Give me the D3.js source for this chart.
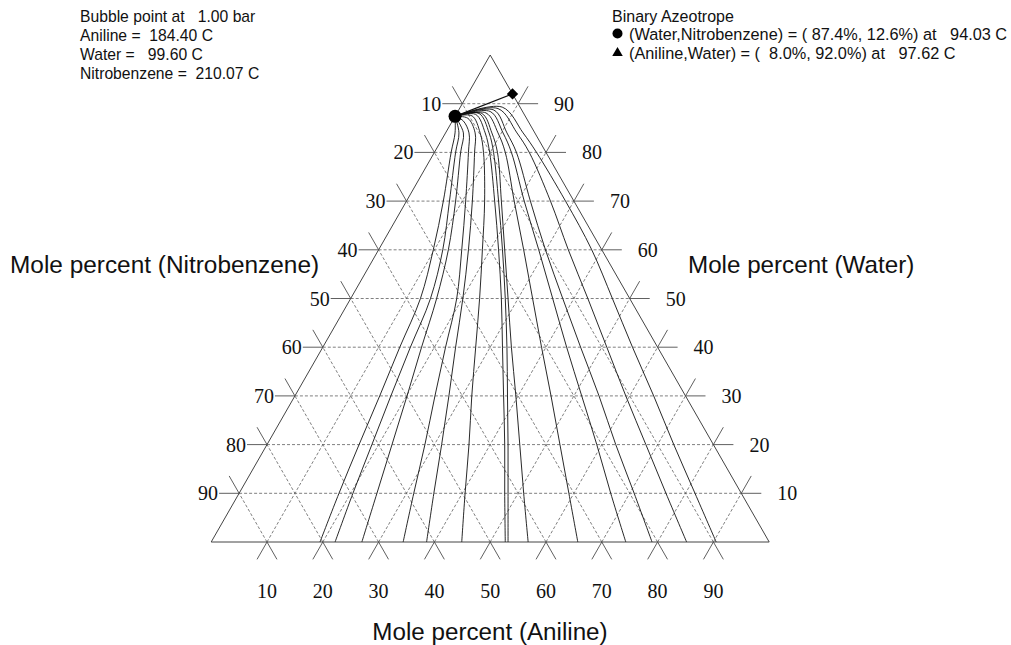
<!DOCTYPE html>
<html>
<head>
<meta charset="utf-8">
<script src="https://cdn.jsdelivr.net/npm/d3@7"></script>
<style>
  body { margin: 0; background: #fff; }
  svg { display: block; }
  .sans { font-family: "Liberation Sans", Arial, sans-serif; }
  .serif { font-family: "Liberation Serif", "Times New Roman", serif; }
</style>
</head>
<body>
<svg id="chart" width="1011" height="645"></svg>
<script>
// Ternary system: apex = Water, bottom-right = Aniline, bottom-left = Nitrobenzene
const gridTicks = [10, 20, 30, 40, 50, 60, 70, 80, 90];
const axisTitles = {
  left: "Mole percent (Nitrobenzene)",
  right: "Mole percent (Water)",
  bottom: "Mole percent (Aniline)"
};
const headerLines = [
  "Bubble point at   1.00 bar",
  "Aniline =  184.40 C",
  "Water =   99.60 C",
  "Nitrobenzene =  210.07 C"
];
const legendTitle = "Binary Azeotrope";
const legendLines = [
  "(Water,Nitrobenzene) = ( 87.4%, 12.6%) at   94.03 C",
  "(Aniline,Water) = (  8.0%, 92.0%) at   97.62 C"
];
// azeotropes as [water %, aniline %]
const azeoWaterNitro = [87.4, 0.0];
const azeoAnilineWater = [92.0, 8.0];

// bubble-point isotherms, lower part: aniline % at each water % level
const isothermWater = [0, 10, 20, 30, 40, 50, 60, 70, 80];
const isothermAniline = [
  [19.5, 17.9, 16.5, 15.2, 13.8, 12.5,  9.8,  6.6,  3.0],
  [22.2, 20.4, 18.8, 17.2, 15.7, 14.3, 11.5,  7.7,  3.8],
  [27.0, 24.7, 22.4, 20.1, 17.7, 15.4, 12.5,  8.8,  4.7],
  [34.4, 31.3, 28.3, 25.1, 22.0, 19.0, 14.9, 10.6,  6.1],
  [38.6, 34.9, 31.3, 27.6, 23.8, 20.1, 16.1, 11.8,  7.2],
  [44.9, 40.5, 36.2, 31.7, 27.4, 23.1, 18.6, 14.0,  8.8],
  [52.7, 47.6, 42.6, 37.4, 32.2, 27.0, 21.5, 15.8,  9.9],
  [53.2, 48.2, 43.2, 38.1, 33.0, 27.7, 22.2, 16.5, 10.6],
  [56.8, 51.0, 45.3, 39.6, 33.8, 28.2, 22.6, 17.0, 11.3],
  [65.7, 59.1, 52.5, 45.9, 39.2, 32.6, 26.0, 19.3, 12.7],
  [74.3, 66.6, 59.1, 51.4, 43.7, 36.2, 28.7, 21.1, 13.8],
  [79.0, 70.8, 62.5, 54.5, 46.2, 38.0, 29.9, 22.2, 14.7],
  [85.2, 76.5, 67.9, 59.3, 50.9, 42.5, 34.0, 25.8, 17.0],
  [90.5, 81.7, 72.9, 64.3, 55.5, 46.9, 38.2, 28.5, 18.3]
];
// upper part of each isotherm as [water %, aniline %], arching into the W/N azeotrope
const isothermTop = [
  [[84, 1.7]],
  [[84, 2.4]],
  [[84, 3.2]],
  [[84, 4.2], [86.5, 1.9]],
  [[84, 5.3], [87.0, 2.5]],
  [[84, 6.2], [87.5, 3.0]],
  [[84, 7.1], [87.8, 3.5]],
  [[84, 7.8], [88.0, 4.0]],
  [[84, 8.3], [88.0, 4.5]],
  [[84, 9.4], [88.1, 5.2]],
  [[84, 10.3], [88.4, 5.8]],
  [[84, 11.0], [88.7, 6.3]],
  [[84, 12.8], [89.0, 6.9]],
  [[84, 13.9], [89.3, 7.5]]
];

const svg = d3.select("#chart");

// ternary -> pixel: water sets height, aniline runs along the base
const yW = d3.scaleLinear().domain([0, 100]).range([542, 55]);
const xA = d3.scaleLinear().domain([0, 100]).range([211.2, 769.2]);
const shiftW = d3.scaleLinear().domain([0, 100]).range([0, 279]);
const pt = (w, a) => [xA(a) + shiftW(w), yW(w)];

const gridColor = "#606060";
const tickLen = 20;

function extend(from, to, len) {
  const dx = to[0] - from[0], dy = to[1] - from[1];
  const d = Math.hypot(dx, dy);
  return [to, [to[0] + dx / d * len, to[1] + dy / d * len]];
}
const seg = (g, p, q) => g.append("line")
  .attr("x1", p[0]).attr("y1", p[1]).attr("x2", q[0]).attr("y2", q[1]);

// dashed grid
const grid = svg.append("g")
  .attr("stroke", gridColor).attr("stroke-width", 0.8)
  .attr("stroke-dasharray", "3,2").attr("fill", "none");
gridTicks.forEach(v => {
  seg(grid, pt(v, 0), pt(v, 100 - v));           // constant water
  seg(grid, pt(0, v), pt(100 - v, v));           // constant aniline
  seg(grid, pt(0, v), pt(v, 0));                 // constant nitrobenzene
});

// tick marks (solid extensions of the grid lines)
const ticks = svg.append("g").attr("stroke", gridColor).attr("stroke-width", 1);
gridTicks.forEach(v => {
  // left edge: nitrobenzene = v
  const L = pt(100 - v, 0);
  seg(ticks, L, [L[0] - tickLen, L[1]]);
  const l2 = extend(pt(0, 100 - v), L, tickLen); seg(ticks, l2[0], l2[1]);
  // right edge: water = v
  const R = pt(v, 100 - v);
  seg(ticks, R, [R[0] + tickLen, R[1]]);
  const r2 = extend(pt(0, 100 - v), R, tickLen); seg(ticks, r2[0], r2[1]);
  // bottom edge: aniline = v
  const B = pt(0, v);
  const b1 = extend(pt(100 - v, v), B, tickLen); seg(ticks, b1[0], b1[1]);
  const b2 = extend(pt(v, 0), B, tickLen); seg(ticks, b2[0], b2[1]);
});

// triangle outline
svg.append("path")
  .attr("d", d3.line()([pt(100, 0), pt(0, 100), pt(0, 0)]) + "Z")
  .attr("fill", "none").attr("stroke", "#444").attr("stroke-width", 1);

// tick labels
const serifG = svg.append("g").attr("class", "serif").attr("font-size", 20).attr("fill", "#111");
gridTicks.forEach(v => {
  const L = pt(100 - v, 0);
  serifG.append("text").attr("x", L[0] - tickLen - 1).attr("y", L[1] + 7)
    .attr("text-anchor", "end").text(v);
  const R = pt(v, 100 - v);
  serifG.append("text").attr("x", R[0] + 36).attr("y", R[1] + 7)
    .attr("text-anchor", "start").text(v);
  const B = pt(0, v);
  serifG.append("text").attr("x", B[0]).attr("y", 598)
    .attr("text-anchor", "middle").text(v);
});

// isotherm curves
const line = d3.line().curve(d3.curveCatmullRom.alpha(0.5));
const curveG = svg.append("g").attr("fill", "none").attr("stroke", "#111").attr("stroke-width", 0.9);
isothermAniline.forEach((arr, k) => {
  const pts = isothermWater.map((w, i) => pt(w, arr[i]));
  isothermTop[k].forEach(([w, a]) => pts.push(pt(w, a)));
  pts.push(pt(azeoWaterNitro[0], azeoWaterNitro[1]));
  curveG.append("path").attr("d", line(pts));
});

// line joining the two binary azeotropes
svg.append("path")
  .attr("d", d3.line()([pt(...azeoWaterNitro), pt(...azeoAnilineWater)]))
  .attr("stroke", "#111").attr("stroke-width", 1.2).attr("fill", "none");

// azeotrope markers
const a1 = pt(...azeoWaterNitro);
svg.append("circle").attr("cx", a1[0]).attr("cy", a1[1]).attr("r", 6.5).attr("fill", "#000");
const a2 = pt(...azeoAnilineWater);
svg.append("path")
  .attr("d", d3.symbol(d3.symbolSquare, 64)())
  .attr("transform", `translate(${a2[0]},${a2[1]}) rotate(45)`)
  .attr("fill", "#000");

// axis titles
const sans = svg.append("g").attr("class", "sans").attr("fill", "#111");
sans.append("text").attr("x", 10).attr("y", 273).attr("font-size", 24.4).text(axisTitles.left);
sans.append("text").attr("x", 688).attr("y", 273).attr("font-size", 24.2).text(axisTitles.right);
sans.append("text").attr("x", 490).attr("y", 640).attr("font-size", 24.2)
  .attr("text-anchor", "middle").text(axisTitles.bottom);

// header block
headerLines.forEach((t, i) => {
  sans.append("text").attr("x", 80).attr("y", 21.5 + i * 19).attr("font-size", 15.7)
    .style("white-space", "pre").text(t);
});

// legend
sans.append("text").attr("x", 612).attr("y", 21.5).attr("font-size", 16).text(legendTitle);
legendLines.forEach((t, i) => {
  sans.append("text").attr("x", 629).attr("y", 40 + i * 19).attr("font-size", 16.3)
    .style("white-space", "pre").text(t);
});
svg.append("circle").attr("cx", 617.5).attr("cy", 33.5).attr("r", 5).attr("fill", "#000");
svg.append("path").attr("d", d3.symbol(d3.symbolTriangle, 48)())
  .attr("transform", "translate(617.5,53)").attr("fill", "#000");
</script>
</body>
</html>
